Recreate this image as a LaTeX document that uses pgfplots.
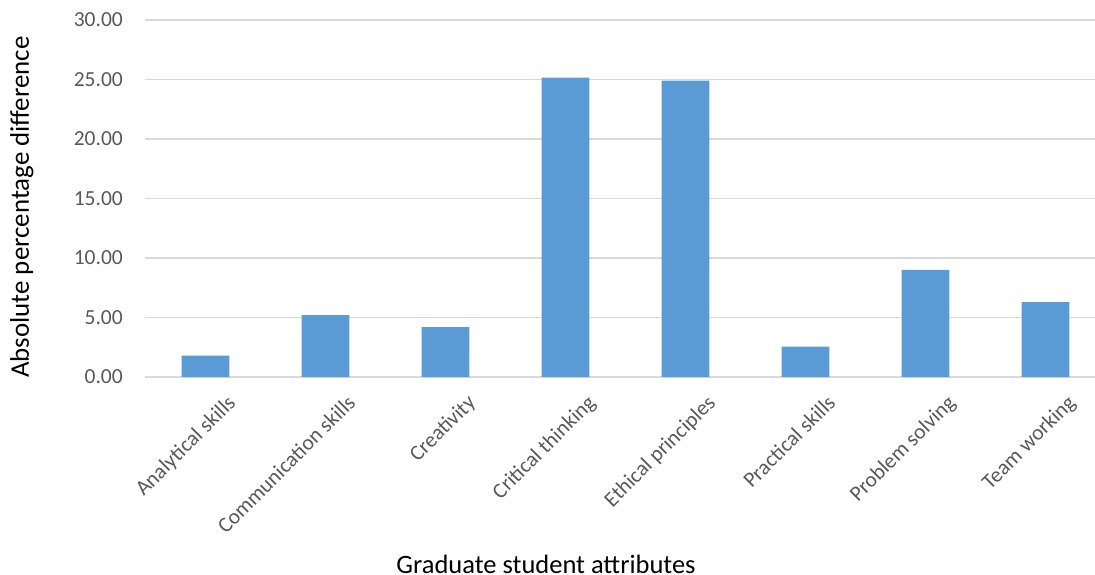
\documentclass[border=0pt]{standalone}
\usepackage{fontspec}
\setmainfont{Carlito}
\usepackage{pgfplots}
\pgfplotsset{compat=1.18}
\definecolor{barblue}{HTML}{5B9BD5}
\definecolor{gridgray}{HTML}{D9D9D9}
\definecolor{ticktext}{HTML}{595959}

\begin{document}
\begin{tikzpicture}
\begin{axis}[
  scale only axis,
  width=949.5bp, height=357bp,
  xmin=-0.5, xmax=7.4125,
  ymin=0, ymax=30,
  ytick={0,5,...,30},
  xtick={0,...,7},
  xticklabels={Analytical skills, Communication skills, Creativity, Critical thinking, Ethical principles, Practical skills, Problem solving, Team working},
  ymajorgrids,
  major grid style={gridgray, line width=1.4bp},
  axis line style={draw=none},
  major tick length=0pt,
  /pgf/number format/assume math mode=true,
  yticklabel={\pgfmathprintnumber[fixed, fixed zerofill, precision=2]{\tick}},
  yticklabel style={ticktext, font=\fontsize{21.5bp}{24bp}\selectfont, anchor=east, inner sep=0pt, xshift=-22.5bp},
  xticklabel style={ticktext, font=\fontsize{21.5bp}{24bp}\selectfont, rotate=45, anchor=north east, inner sep=0pt, xshift=3bp, yshift=-26bp},
  ylabel={Absolute percentage difference},
  ylabel style={font=\fontsize{26.9bp}{30bp}\selectfont, at={(axis description cs:-0.1302,0.476)}, anchor=center, rotate=0},
  xlabel={Graduate student attributes},
  xlabel style={font=\fontsize{26.5bp}{30bp}\selectfont, at={(axis description cs:0.4218,-0.524)}, anchor=center},
  ybar, bar width=47.7bp, bar shift=0pt,
]
\addplot[fill=barblue, draw=none] coordinates {
  (0,1.8) (1,5.2) (2,4.2) (3,25.15) (4,24.9) (5,2.55) (6,9.0) (7,6.3)
};
\end{axis}
\pgfresetboundingbox
\path[use as bounding box] (-145.5bp,-198bp) rectangle (949.5bp,377bp);
\end{tikzpicture}
\end{document}
